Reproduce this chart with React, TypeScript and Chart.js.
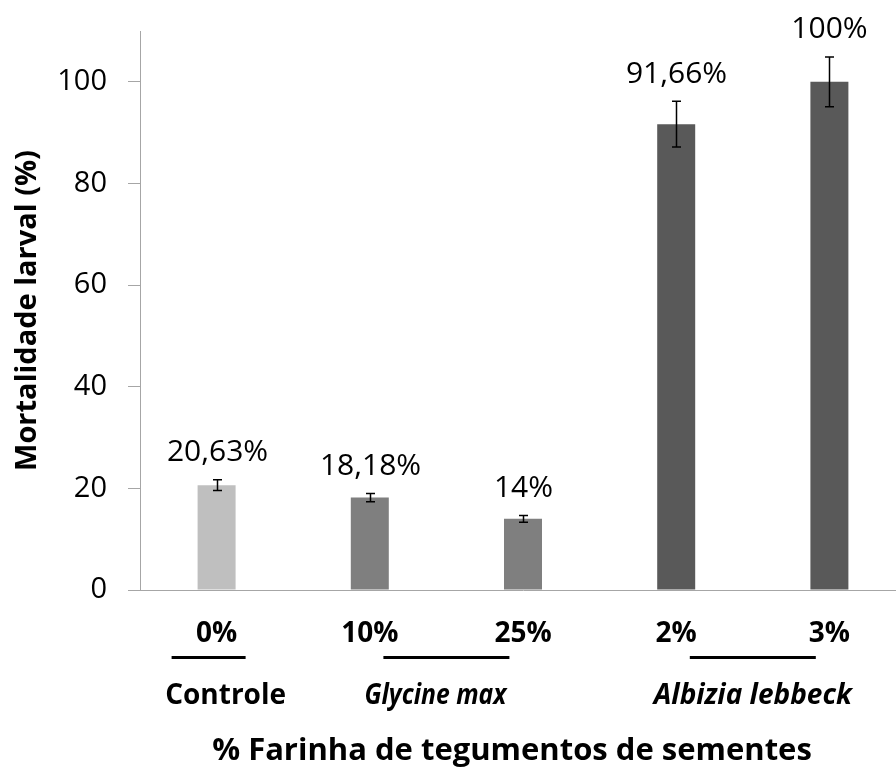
import React, { useEffect, useRef } from "react";
import { Chart, registerables } from "chart.js";

Chart.register(...registerables);

// ---- data ----
const categories = ["0%", "10%", "25%", "2%", "3%"];
const mortality = [20.63, 18.18, 14, 91.66, 100];
const errors = [1.05, 0.8, 0.65, 4.5, 4.9];
const valueLabels = ["20,63%", "18,18%", "14%", "91,66%", "100%"];
const barColors = ["#BFBFBF", "#7F7F7F", "#7F7F7F", "#595959", "#595959"];
const groupNames = ["Controle", "Glycine max", "Albizia lebbeck"];
const groupStart = [0, 1, 3];
const groupEnd = [0, 2, 4];
const groupItalic = [false, true, true];
const yMin = 0;
const yMax = 110;
const yStep = 20;
const xTitle = "% Farinha de tegumentos de sementes";
const yTitle = "Mortalidade larval (%)";

// ---- layout / style constants ----
const FONT = '"Open Sans", "DejaVu Sans", sans-serif';
const groupLabelShift = [9, -11, 0];
const groupLineShift = [-8, 0, 0];
const groupLabelMaxW = [130, 142, 220];

const annotations = {
  id: "annotations",
  afterDraw(chart: any) {
    const { ctx } = chart;
    const xs = chart.scales.x;
    const ys = chart.scales.y;
    ctx.save();
    // error bars + value labels
    mortality.forEach((v, i) => {
      const cx = Math.round(xs.getPixelForValue(i)) + 0.5;
      const yt = ys.getPixelForValue(v + errors[i]);
      const yb = ys.getPixelForValue(v - errors[i]);
      ctx.strokeStyle = "#000";
      ctx.lineWidth = 1.5;
      ctx.beginPath();
      ctx.moveTo(cx, yt);
      ctx.lineTo(cx, yb);
      ctx.moveTo(cx - 4.5, yt);
      ctx.lineTo(cx + 4.5, yt);
      ctx.moveTo(cx - 4.5, yb);
      ctx.lineTo(cx + 4.5, yb);
      ctx.stroke();
      ctx.font = `30px ${FONT}`;
      ctx.fillStyle = "#000";
      ctx.textAlign = "center";
      ctx.textBaseline = "alphabetic";
      ctx.fillText(valueLabels[i], cx, yt - 18.5);
    });
    // group lines and labels
    groupNames.forEach((name, g) => {
      const p0 = xs.getPixelForValue(groupStart[g]);
      const p1 = xs.getPixelForValue(groupEnd[g]);
      const center = (p0 + p1) / 2;
      const half = groupStart[g] === groupEnd[g] ? 37 : 63;
      const lc = center + groupLineShift[g];
      ctx.fillStyle = "#000";
      ctx.fillRect(lc - half, xs.top + 66, half * 2, 3);
      ctx.font = `${groupItalic[g] ? "italic " : ""}bold 28px ${FONT}`;
      ctx.textAlign = "center";
      ctx.textBaseline = "alphabetic";
      ctx.fillText(name, center + groupLabelShift[g], xs.top + 114, groupLabelMaxW[g]);
    });
    // x axis title
    ctx.font = `bold 31px ${FONT}`;
    ctx.textAlign = "center";
    ctx.fillText(xTitle, (chart.chartArea.left + chart.chartArea.right) / 2 - 11, xs.top + 170);
    ctx.restore();
  },
};

export default function App() {
  const ref = useRef<HTMLCanvasElement | null>(null);
  useEffect(() => {
    if (!ref.current) return;
    const chart = new Chart(ref.current, {
      type: "bar",
      data: {
        labels: categories,
        datasets: [
          {
            data: mortality,
            backgroundColor: barColors,
            borderWidth: 0,
            barPercentage: 0.248,
            categoryPercentage: 1,
          },
        ],
      },
      options: {
        animation: false,
        responsive: false,
        devicePixelRatio: 1,
        layout: { padding: { top: 31, left: 0, right: 0, bottom: 0 } },
        plugins: {
          legend: { display: false },
          tooltip: { enabled: false },
          title: { display: false },
        },
        scales: {
          x: {
            type: "category",
            offset: true,
            grid: { display: false, drawTicks: false },
            border: { display: true, color: "#A6A6A6", width: 1 },
            ticks: {
              color: "#000",
              padding: 27,
              font: { family: FONT, size: 28, weight: "bold" },
              maxRotation: 0,
              autoSkip: false,
            },
            afterFit: (s: any) => {
              s.height = 177;
              s.paddingLeft = 0;
              s.paddingRight = 0;
            },
          },
          y: {
            min: yMin,
            max: yMax,
            grid: {
              display: true,
              drawOnChartArea: false,
              drawTicks: true,
              tickLength: 12,
              color: "#A6A6A6",
            },
            border: { display: true, color: "#A6A6A6", width: 1 },
            ticks: {
              stepSize: yStep,
              includeBounds: false,
              color: "#000",
              padding: 21,
              font: { family: FONT, size: 29 },
            },
            title: {
              display: true,
              text: yTitle,
              color: "#000",
              padding: { top: 10, bottom: 0 },
              font: { family: FONT, size: 29, weight: "bold" },
            },
            afterFit: (s: any) => {
              s.width = 140;
              s.paddingTop = 0;
              s.paddingBottom = 0;
            },
          },
        },
      },
      plugins: [annotations],
    });
    return () => chart.destroy();
  }, []);
  return (
    <div
      style={{
        position: "fixed",
        left: 0,
        top: 0,
        width: 896,
        height: 767,
        overflow: "hidden",
        background: "#fff",
      }}
    >
      <canvas ref={ref} width={906} height={767} style={{ display: "block" }} />
    </div>
  );
}
